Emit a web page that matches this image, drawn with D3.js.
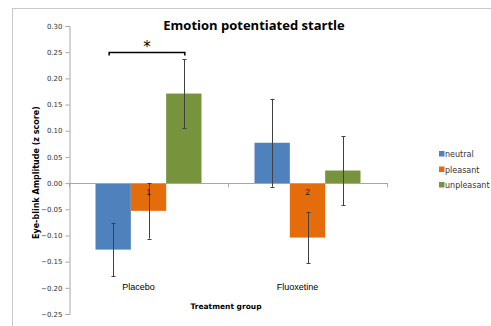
<!DOCTYPE html>
<html><head><meta charset="utf-8">
<script src="https://cdn.jsdelivr.net/npm/d3@7"></script>
<style>body{margin:0;background:#fff}svg{display:block}</style>
</head><body>
<svg id="c" width="491" height="326"></svg>
<script>
const groups = ["Placebo", "Fluoxetine"];
const series = ["neutral", "pleasant", "unpleasant"];
const colors = ["#4F81BD", "#E46C0A", "#77933C"];
const means = {
  Placebo:    [-0.127, -0.053, 0.171],
  Fluoxetine: [0.077, -0.104, 0.024]
};
const errs = {
  Placebo:    [0.051, 0.053, 0.066],
  Fluoxetine: [0.084, 0.049, 0.066]
};
const barLabels = {Placebo: ["", "1", ""], Fluoxetine: ["", "2", ""]};
const yTicks = [-0.25, -0.20, -0.15, -0.10, -0.05, 0.00, 0.05, 0.10, 0.15, 0.20, 0.25, 0.30];
const title = "Emotion potentiated startle";
const yTitle = "Eye-blink Amplitude (z score)";
const xTitle = "Treatment group";
const sig = {group: "Placebo", from: 0, to: 2, level: 0.25, mark: "*"};

const svg = d3.select("#c");
const axisColor = "#a6a6a6";
const tickFont = "'DejaVu Sans', Verdana, sans-serif";

// outer border
svg.append("rect").attr("x", 12.5).attr("y", 8.5).attr("width", 500).attr("height", 400)
  .attr("fill", "none").attr("stroke", "#c8c8c8");

const y = d3.scaleLinear().domain([-0.25, 0.30]).range([314, 26]);
const x = d3.scaleBand().domain(groups).range([69, 387]).padding(0);
const bw = x.bandwidth() / 4.5;
const xs = d3.scaleBand().domain(d3.range(3)).range([0.75 * bw, x.bandwidth() - 0.75 * bw]).padding(0);

// y axis
const yAxis = d3.axisLeft(y).tickValues(yTicks).tickFormat(d3.format(".2f")).tickSize(4).tickPadding(3);
const gy = svg.append("g").attr("transform", "translate(69.5,0)").call(yAxis);
gy.select(".domain").attr("stroke", axisColor);
gy.selectAll(".tick line").attr("stroke", axisColor);
gy.selectAll(".tick text").attr("font-family", tickFont).attr("font-size", 7).attr("fill", "#333");

// bars
groups.forEach(g => {
  series.forEach((s, i) => {
    const v = means[g][i];
    const x0 = x(g) + xs(i);
    svg.append("rect").attr("x", x0).attr("width", xs.bandwidth())
      .attr("y", y(Math.max(0, v))).attr("height", Math.abs(y(v) - y(0)))
      .attr("fill", colors[i]);
  });
});

// zero axis
const gx = svg.append("g");
gx.append("line").attr("x1", 69).attr("x2", 387).attr("y1", Math.round(y(0)) + 0.5).attr("y2", Math.round(y(0)) + 0.5)
  .attr("stroke", axisColor);
[69, 387].concat(groups.slice(1).map(g => x(g))).forEach(t => {
  gx.append("line").attr("x1", Math.round(t) + 0.5).attr("x2", Math.round(t) + 0.5)
    .attr("y1", y(0)).attr("y2", y(0) + 4).attr("stroke", axisColor);
});

// error bars & labels
groups.forEach(g => {
  series.forEach((s, i) => {
    const v = means[g][i], e = errs[g][i];
    const cx = Math.round(x(g) + xs(i) + xs.bandwidth() / 2) + 0.5;
    svg.append("line").attr("x1", cx).attr("x2", cx).attr("y1", y(v + e)).attr("y2", y(v - e))
      .attr("stroke", "#404040").attr("stroke-width", 1);
    [v + e, v - e].forEach(t => svg.append("line").attr("x1", cx - 2).attr("x2", cx + 2)
      .attr("y1", Math.round(y(t)) + 0.5).attr("y2", Math.round(y(t)) + 0.5).attr("stroke", "#404040"));
    if (barLabels[g][i]) {
      svg.append("text").attr("x", cx - 1).attr("y", y(-0.022)).attr("text-anchor", "middle")
        .attr("font-family", "'Liberation Sans', Arial, sans-serif").attr("font-size", 8.5)
        .attr("fill", "#222").text(barLabels[g][i]);
    }
  });
});

// category labels
groups.forEach(g => {
  svg.append("text").attr("x", x(g) + x.bandwidth() / 2 - 10).attr("y", y(-0.205))
    .attr("text-anchor", "middle").attr("font-family", "'Liberation Sans', Arial, sans-serif")
    .attr("font-size", 9).attr("fill", "#000").text(g);
});

// significance bracket
{
  const x1 = x(sig.group) + xs(sig.from) + xs.bandwidth() / 2 - 4;
  const x2 = x(sig.group) + xs(sig.to) + xs.bandwidth() / 2 + 1;
  const yy = Math.round(y(sig.level)) + 0.5;
  svg.append("path").attr("d", `M${x1},${yy + 3}V${yy}H${x2}V${yy + 3}`)
    .attr("fill", "none").attr("stroke", "#000").attr("stroke-width", 1.5);
  svg.append("text").attr("x", (x1 + x2) / 2).attr("y", yy - 0.5).attr("text-anchor", "middle")
    .attr("font-family", "'DejaVu Sans', sans-serif").attr("font-size", 15).attr("fill", "#000").text(sig.mark);
}

// titles
svg.append("text").attr("x", 254).attr("y", 30).attr("text-anchor", "middle")
  .attr("font-family", "'Open Sans', 'Liberation Sans', sans-serif").attr("font-weight", "bold")
  .attr("font-size", 13).attr("fill", "#000").text(title);
svg.append("text").attr("x", 226).attr("y", 309).attr("text-anchor", "middle")
  .attr("font-family", "'DejaVu Sans', sans-serif").attr("font-weight", "bold")
  .attr("font-size", 7.5).attr("fill", "#000").text(xTitle);
svg.append("text").attr("transform", `translate(39,${y(0.02)}) rotate(-90)`).attr("text-anchor", "middle")
  .attr("font-family", "'DejaVu Sans', sans-serif").attr("font-weight", "bold")
  .attr("font-size", 8).attr("fill", "#000").text(yTitle);

// legend
series.forEach((s, i) => {
  const ly = 154 + i * 15.5;
  svg.append("rect").attr("x", 439).attr("y", ly - 3).attr("width", 5.5).attr("height", 5.5).attr("fill", colors[i]);
  svg.append("text").attr("x", 445).attr("y", ly + 3).attr("font-family", tickFont)
    .attr("font-size", 8).attr("fill", "#333").text(s);
});
</script>
</body></html>
